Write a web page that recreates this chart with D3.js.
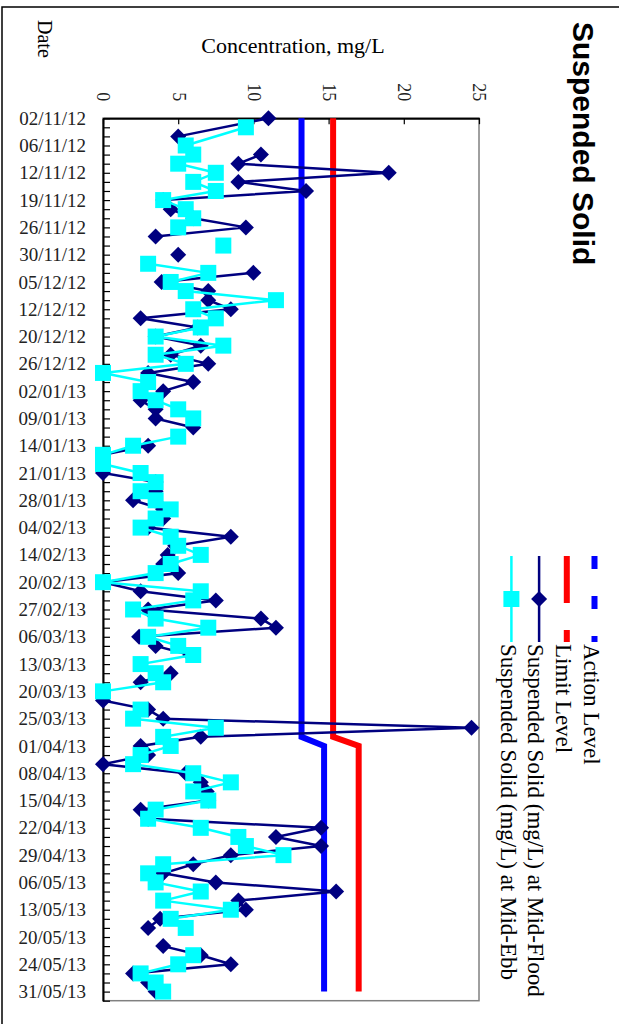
<!DOCTYPE html>
<html lang="en">
<head>
<meta charset="UTF-8" />
<title>Suspended Solid</title>
<script src="https://d3js.org/d3.v7.min.js"></script>
<style>
  body { margin: 0; background: #fff; }
  svg { display: block; font-family: "Liberation Serif", "Times New Roman", serif; }
  .title { font-family: "Liberation Sans", Arial, sans-serif; font-weight: bold; font-size: 30px; }
</style>
</head>
<body>
<script>
  // labels shown on the date axis (every third sampling slot)
  const tickLabels = ["02/11/12", "06/11/12", "12/11/12", "19/11/12", "26/11/12", "30/11/12",
    "05/12/12", "12/12/12", "20/12/12", "26/12/12", "02/01/13", "09/01/13", "14/01/13",
    "21/01/13", "28/01/13", "04/02/13", "14/02/13", "20/02/13", "27/02/13", "06/03/13",
    "13/03/13", "20/03/13", "25/03/13", "01/04/13", "08/04/13", "15/04/13", "22/04/13",
    "29/04/13", "06/05/13", "13/05/13", "20/05/13", "24/05/13", "31/05/13"];
  const categories = tickLabels.flatMap(d => [d, "", ""]).slice(0, 98);

  const NA = "NA"; // skipped but joined by the line; null = gap

  const actionLevel = [
    13.2, 13.2, 13.2, 13.2, 13.2, 13.2, 13.2, 13.2, 13.2, 13.2,
    13.2, 13.2, 13.2, 13.2, 13.2, 13.2, 13.2, 13.2, 13.2, 13.2,
    13.2, 13.2, 13.2, 13.2, 13.2, 13.2, 13.2, 13.2, 13.2, 13.2,
    13.2, 13.2, 13.2, 13.2, 13.2, 13.2, 13.2, 13.2, 13.2, 13.2,
    13.2, 13.2, 13.2, 13.2, 13.2, 13.2, 13.2, 13.2, 13.2, 13.2,
    13.2, 13.2, 13.2, 13.2, 13.2, 13.2, 13.2, 13.2, 13.2, 13.2,
    13.2, 13.2, 13.2, 13.2, 13.2, 13.2, 13.2, 13.2, 13.2, 14.7,
    14.7, 14.7, 14.7, 14.7, 14.7, 14.7, 14.7, 14.7, 14.7, 14.7,
    14.7, 14.7, 14.7, 14.7, 14.7, 14.7, 14.7, 14.7, 14.7, 14.7,
    14.7, 14.7, 14.7, 14.7, 14.7, 14.7, 14.7, null];
  const limitLevel = [
    15.3, 15.3, 15.3, 15.3, 15.3, 15.3, 15.3, 15.3, 15.3, 15.3,
    15.3, 15.3, 15.3, 15.3, 15.3, 15.3, 15.3, 15.3, 15.3, 15.3,
    15.3, 15.3, 15.3, 15.3, 15.3, 15.3, 15.3, 15.3, 15.3, 15.3,
    15.3, 15.3, 15.3, 15.3, 15.3, 15.3, 15.3, 15.3, 15.3, 15.3,
    15.3, 15.3, 15.3, 15.3, 15.3, 15.3, 15.3, 15.3, 15.3, 15.3,
    15.3, 15.3, 15.3, 15.3, 15.3, 15.3, 15.3, 15.3, 15.3, 15.3,
    15.3, 15.3, 15.3, 15.3, 15.3, 15.3, 15.3, 15.3, 15.3, 17.0,
    17.0, 17.0, 17.0, 17.0, 17.0, 17.0, 17.0, 17.0, 17.0, 17.0,
    17.0, 17.0, 17.0, 17.0, 17.0, 17.0, 17.0, 17.0, 17.0, 17.0,
    17.0, 17.0, 17.0, 17.0, 17.0, 17.0, 17.0, null];
  const midFlood = [
    11.0, NA, 5.0, null, 10.5, 9.0, 19.0, 9.0, 13.5, 4.0,
    4.5, 6.0, 9.5, 3.5, null, 5.0, null, 10.0, 3.9, 7.0,
    7.0, 8.5, 2.5, 6.3, 3.5, 6.5, 4.5, 7.0, 3.0, 6.0,
    4.0, 2.5, 3.5, 3.5, 6.0, null, 3.0, 0, 0, 0,
    3.5, 3.5, 2.0, 4.0, 4.0, 3.0, 8.5, 4.8, 4.3, 4.0,
    5.0, 0, 2.5, 7.5, 3.0, 10.5, 11.5, 2.4, 3.5, 5.8,
    null, 4.5, 2.5, null, 0, 3.0, 4.0, 24.5, 6.5, 2.5,
    3.0, 0, 5.5, 6.5, 6.9, 7.0, 2.5, 3.0, 14.5, 11.5,
    14.5, 8.5, 6.0, 4.0, 7.5, 15.5, 9.0, 9.5, 3.8, 3.0,
    null, 4.0, 6.5, 8.5, 2.0, 3.0, 3.5, null];
  const midEbb = [
    null, 9.5, NA, 5.5, 6.0, 5.0, 7.5, 6.0, 7.5, 4.0,
    5.5, 6.0, 5.0, null, 8.0, null, 3.0, 7.0, 4.5, 5.5,
    11.5, 6.0, 7.5, 6.5, 3.5, 8.0, 3.5, 5.5, 0, 3.0,
    2.5, 3.5, 5.0, 6.0, null, 5.0, 2.0, 0, 0, 2.5,
    3.5, 2.5, 3.5, 4.5, 3.5, 2.5, 4.5, 5.0, 6.5, 4.5,
    3.5, 0, 6.5, 6.0, 2.0, 3.5, 7.0, 3.0, 5.0, 6.0,
    2.5, 3.5, 4.0, 0, null, 2.5, 2.0, 7.5, 4.0, 4.5,
    2.5, 2.0, 6.0, 8.5, 6.0, 7.0, 3.5, 3.0, 6.5, 9.0,
    9.5, 12.0, 4.0, 3.0, 3.5, 6.5, 4.0, 8.5, 4.5, 5.5,
    null, null, 6.0, 5.0, 2.5, 3.5, 4.0, null];
  const valueTicks = [0, 5, 10, 15, 20, 25];

  const series = [
    { name: "Action Level", values: actionLevel, color: "#0000ff", width: 6, dash: "13,27" },
    { name: "Limit Level", values: limitLevel, color: "#ff0000", width: 6, dash: "47,27" },
    { name: "Suspended Solid (mg/L) at Mid-Flood", values: midFlood, color: "#000080", width: 2.5, marker: "diamond" },
    { name: "Suspended Solid (mg/L) at Mid-Ebb", values: midEbb, color: "#00ffff", width: 2.5, marker: "square" }
  ];

  const width = 619, height = 1024;
  const svg = d3.select("body").append("svg")
    .attr("width", width)
    .attr("height", height);

  // outer chart border (chart is printed turned a quarter clockwise)
  svg.append("rect")
    .attr("x", 2).attr("y", 7)
    .attr("width", 700).attr("height", 1100)
    .attr("fill", "none").attr("stroke", "#000").attr("stroke-width", 1.5);

  const x = d3.scaleLinear().domain([0, 25]).range([103, 479]);
  const y = d3.scalePoint().domain(d3.range(categories.length)).range([118.2, 1000.7]);

  // plot area
  svg.append("rect")
    .attr("x", x(0)).attr("y", y(0))
    .attr("width", x(25) - x(0)).attr("height", y(categories.length - 1) - y(0))
    .attr("fill", "#fff").attr("stroke", "#808080").attr("stroke-width", 1.5);

  // date axis
  const dateAxis = svg.append("g")
    .attr("transform", `translate(${x(0)},0)`)
    .call(d3.axisLeft(y)
      .tickSizeInner(-7).tickSizeOuter(0).tickPadding(17)
      .tickFormat(i => categories[i]));
  dateAxis.select(".domain").attr("stroke", "#000").attr("stroke-width", 2);
  dateAxis.selectAll(".tick line").attr("stroke", "#000").attr("stroke-width", 1.2);
  dateAxis.selectAll(".tick text")
    .attr("font-family", "'Liberation Serif', serif").attr("font-size", 19).attr("fill", "#222");

  // value axis
  const valueAxis = svg.append("g")
    .attr("transform", `translate(0,${y(0)})`)
    .call(d3.axisTop(x).tickValues(valueTicks).tickSizeInner(-6).tickSizeOuter(0));
  valueAxis.select(".domain").attr("stroke", "#000").attr("stroke-width", 2);
  valueAxis.selectAll(".tick line").attr("stroke", "#000").attr("stroke-width", 1.2);
  valueAxis.selectAll(".tick text")
    .attr("x", 0).attr("y", 0).attr("dy", "0.34em")
    .attr("transform", "translate(0,-17) rotate(90)")
    .attr("text-anchor", "end")
    .attr("font-family", "'Liberation Serif', serif").attr("font-size", 18).attr("fill", "#222");

  // series
  const diamond = d3.symbol(d3.symbolSquare, 128);
  const square = d3.symbol(d3.symbolSquare, 256);

  series.forEach(s => {
    const pts = s.values.map((v, i) => ({ i, v })).filter(d => d.v !== NA);
    const line = d3.line()
      .defined(d => d.v !== null)
      .x(d => x(d.v))
      .y(d => y(d.i));
    svg.append("path")
      .datum(pts)
      .attr("d", line)
      .attr("fill", "none")
      .attr("stroke", s.color)
      .attr("stroke-width", s.width)
      .attr("stroke-linejoin", "miter");

    if (s.marker) {
      svg.append("g").selectAll("path")
        .data(pts.filter(d => d.v !== null))
        .join("path")
        .attr("d", s.marker === "diamond" ? diamond : square)
        .attr("transform", d => `translate(${x(d.v)},${y(d.i)})` + (s.marker === "diamond" ? " rotate(45)" : ""))
        .attr("fill", s.color);
    }
  });

  // titles
  svg.append("text")
    .attr("class", "title")
    .attr("transform", "translate(573,22) rotate(90)")
    .text("Suspended Solid");

  svg.append("text")
    .attr("transform", "translate(37.5,20) rotate(90)")
    .attr("font-size", 20)
    .text("Date");

  svg.append("text")
    .attr("x", 293).attr("y", 53)
    .attr("text-anchor", "middle")
    .attr("font-size", 22)
    .text("Concentration, mg/L");

  // legend
  const legend = svg.append("g");
  series.forEach((s, k) => {
    const lx = 594.5 - k * 27.7;
    const g = legend.append("g");
    g.append("line")
      .attr("x1", lx).attr("x2", lx)
      .attr("y1", 556).attr("y2", 642)
      .attr("stroke", s.color)
      .attr("stroke-width", s.width)
      .attr("stroke-dasharray", s.dash || null);
    if (s.marker) {
      g.append("path")
        .attr("d", s.marker === "diamond" ? diamond : square)
        .attr("transform", `translate(${lx},599)` + (s.marker === "diamond" ? " rotate(45)" : ""))
        .attr("fill", s.color);
    }
    g.append("text")
      .attr("transform", `translate(${lx - 3},644) rotate(90)`)
      .attr("dy", "0.34em")
      .attr("font-size", 23)
      .text(s.name);
  });
</script>
</body>
</html>
